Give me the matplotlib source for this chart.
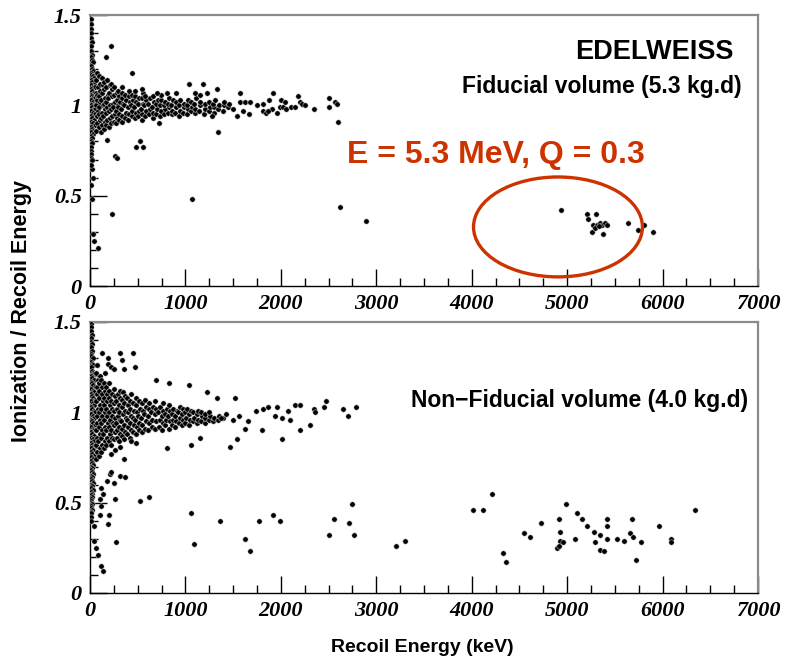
import matplotlib
matplotlib.use("Agg")
import matplotlib.pyplot as plt
from matplotlib.patches import Ellipse
from matplotlib.ticker import MultipleLocator, FuncFormatter

# ---- data: (recoil energy keV, ionization/recoil) ----
fid_core = [
    (8, 1.48), (12, 1.45), (6, 1.42), (15, 1.40), (10, 1.37), (20, 1.35), (8, 1.33), (14, 1.30),
    (25, 1.28), (6, 1.27), (18, 1.25), (30, 1.24), (10, 1.22), (22, 1.20), (35, 1.19), (5, 1.18),
    (15, 1.17), (28, 1.16), (40, 1.15), (10, 1.14), (20, 1.13), (45, 1.12), (8, 1.11), (32, 1.10),
    (55, 1.10), (15, 1.09), (25, 1.08), (40, 1.07), (60, 1.07), (5, 1.06), (18, 1.05), (35, 1.04),
    (50, 1.04), (12, 1.03), (28, 1.02), (45, 1.01), (65, 1.01), (8, 1.00), (20, 0.99), (38, 0.98),
    (55, 0.98), (15, 0.97), (30, 0.96), (48, 0.95), (6, 0.94), (22, 0.93), (40, 0.92), (12, 0.91),
    (30, 0.90), (50, 0.89), (8, 0.88), (20, 0.87), (35, 0.86), (12, 0.85), (28, 0.84), (6, 0.83),
    (18, 0.82), (10, 0.80), (25, 0.79), (8, 0.77), (15, 0.75), (6, 0.73), (12, 0.71), (20, 0.70),
    (62, 0.86), (75, 0.90), (68, 0.94), (80, 0.97), (65, 1.00), (78, 1.03), (70, 1.06), (84, 1.10), (66, 1.14), (76, 1.18),
    (95, 0.88), (102, 0.92), (90, 0.95), (98, 0.99), (105, 1.02), (92, 1.05), (100, 1.08), (108, 1.12), (94, 1.16),
    (120, 0.85), (128, 0.89), (115, 0.93), (124, 0.96), (132, 1.00), (118, 1.03), (126, 1.07), (135, 1.11), (122, 1.15),
    (145, 0.87), (152, 0.91), (140, 0.94), (158, 0.98), (148, 1.01), (155, 1.04), (142, 1.09), (150, 1.13),
    (170, 0.89), (178, 0.92), (165, 0.96), (182, 0.99), (172, 1.02), (186, 1.06), (168, 1.10), (180, 1.14),
    (195, 0.88), (205, 0.93), (198, 0.97), (210, 1.00), (192, 1.04), (202, 1.07), (212, 1.11),
    (225, 0.90), (232, 0.94), (220, 0.98), (238, 1.01), (228, 1.05), (235, 1.09), (222, 1.12),
    (250, 0.91), (258, 0.95), (246, 0.99), (262, 1.02), (254, 1.06), (248, 1.10),
    (275, 0.90), (282, 0.93), (270, 0.97), (288, 1.00), (278, 1.03), (285, 1.07),
    (300, 0.92), (308, 0.95), (296, 0.99), (312, 1.02), (304, 1.05), (298, 1.08),
    (330, 0.91), (340, 0.94), (326, 0.98), (344, 1.01), (334, 1.04), (338, 1.07),
    (365, 0.93), (372, 0.96), (360, 1.00), (378, 1.03), (368, 1.06),
    (400, 0.92), (410, 0.95), (396, 0.99), (414, 1.02), (404, 1.05), (408, 1.08),
    (436, 0.94), (444, 0.97), (432, 1.00), (448, 1.03), (440, 1.06),
    (470, 0.93), (478, 0.96), (466, 0.99), (482, 1.02), (474, 1.05),
    (505, 0.94), (514, 0.97), (500, 1.01), (518, 1.04),
    (540, 0.92), (548, 0.95), (536, 0.98), (552, 1.01), (544, 1.04), (550, 1.07),
    (575, 0.94), (584, 0.97), (570, 1.00), (588, 1.03), (580, 1.05),
    (615, 0.95), (624, 0.98), (612, 1.01), (628, 1.04),
    (655, 0.93), (664, 0.96), (650, 0.99), (668, 1.02), (660, 1.05),
    (695, 0.95), (704, 0.98), (690, 1.01), (708, 1.03),
    (735, 0.94), (745, 0.97), (732, 1.00), (748, 1.03), (740, 1.06),
    (775, 0.95), (784, 0.98), (770, 1.00), (788, 1.02),
    (815, 0.96), (824, 0.99), (812, 1.01), (828, 1.04),
    (855, 0.95), (864, 0.97), (852, 1.00), (868, 1.03),
    (895, 0.96), (904, 0.99), (900, 1.02),
    (935, 0.94), (944, 0.97), (932, 1.00), (948, 1.03),
    (975, 0.96), (984, 0.99), (980, 1.01),
    (1015, 0.95), (1024, 0.98), (1012, 1.00), (1028, 1.03),
    (1055, 0.97), (1064, 0.99), (1060, 1.02),
    (1095, 0.96), (1104, 0.98), (1092, 1.01), (1108, 1.04),
    (1145, 0.97), (1154, 1.00), (1150, 1.02),
    (1195, 0.95), (1204, 0.98), (1200, 1.01),
    (1245, 0.97), (1254, 0.99), (1250, 1.02),
    (1295, 0.96), (1304, 0.99), (1292, 1.01), (1308, 1.03),
    (1345, 0.98), (1355, 1.00), (1395, 0.97), (1404, 1.00), (1400, 1.02),
    (1450, 0.99), (1455, 1.01), (1500, 0.98),
]

fid_sparse = [
    (168, 1.27), (220, 1.33), (440, 1.18), (335, 1.10), (470, 1.08), (545, 1.09), (700, 1.07),
    (805, 1.07), (900, 1.07), (1040, 1.12), (1185, 1.12), (1230, 1.07), (1330, 1.09), (1100, 1.07),
    (1150, 1.06), (1570, 1.07), (1915, 1.07), (1570, 1.02), (1625, 1.02), (1675, 1.02),
    (1750, 1.00), (1810, 1.01), (1875, 1.03), (1905, 0.98), (1810, 0.97), (1840, 0.96),
    (1870, 0.97), (1960, 0.96), (1990, 0.99), (2020, 0.99), (2050, 0.98), (2000, 1.03),
    (2040, 1.02), (2110, 0.99), (2150, 0.99), (2180, 1.05), (2200, 1.02), (2225, 1.01),
    (2250, 1.00), (2350, 0.98), (2505, 1.04), (2505, 0.99), (2570, 1.02), (2590, 1.01),
    (2600, 0.91), (1340, 0.85), (1665, 0.95), (1540, 0.94), (1600, 0.97), (1280, 0.94),
    (723, 0.90), (2620, 0.44), (2890, 0.36), (1070, 0.48), (230, 0.40), (262, 0.72),
    (283, 0.71), (480, 0.77), (524, 0.80), (555, 0.77), (178, 0.81), (35, 0.29), (45, 0.25),
    (80, 0.21), (15, 0.56), (30, 0.60), (20, 0.65), (25, 0.48), (12, 0.67),
    # events inside the circled region
    (4935, 0.42), (5210, 0.40), (5220, 0.37), (5300, 0.40), (5270, 0.34), (5310, 0.34),
    (5340, 0.35), (5370, 0.34), (5400, 0.35), (5420, 0.34), (5260, 0.30), (5290, 0.32),
    (5330, 0.33), (5380, 0.29), (5640, 0.35), (5745, 0.31), (5805, 0.34), (5900, 0.30),
]

nonfid_core = [
    (6, 1.49), (12, 1.47), (8, 1.45), (18, 1.43), (5, 1.41), (14, 1.39), (24, 1.38), (9, 1.36),
    (20, 1.34), (6, 1.32), (15, 1.31), (28, 1.30), (10, 1.28), (22, 1.27), (35, 1.26), (5, 1.25),
    (16, 1.23), (30, 1.22), (42, 1.21), (10, 1.20), (24, 1.19), (38, 1.18), (6, 1.17), (18, 1.16),
    (32, 1.15), (48, 1.14), (12, 1.13), (26, 1.12), (40, 1.11), (5, 1.10), (20, 1.09), (34, 1.08),
    (50, 1.07), (14, 1.06), (28, 1.05), (44, 1.04), (8, 1.03), (22, 1.02), (38, 1.01), (54, 1.00),
    (12, 0.99), (30, 0.98), (46, 0.97), (6, 0.96), (20, 0.95), (36, 0.94), (52, 0.93), (14, 0.92),
    (28, 0.91), (44, 0.90), (8, 0.89), (22, 0.88), (38, 0.87), (12, 0.86), (30, 0.85), (46, 0.84),
    (6, 0.83), (20, 0.82), (36, 0.81), (14, 0.80), (28, 0.79), (8, 0.78), (22, 0.77), (40, 0.76),
    (12, 0.75), (30, 0.74), (6, 0.73), (18, 0.72), (34, 0.71), (10, 0.70), (24, 0.69), (6, 0.68),
    (16, 0.67), (30, 0.66), (10, 0.65), (22, 0.64), (6, 0.63), (16, 0.62), (28, 0.61), (8, 0.60),
    (20, 0.59), (12, 0.58), (26, 0.57), (6, 0.56), (18, 0.55), (10, 0.54), (24, 0.53), (6, 0.52),
    (14, 0.51), (8, 0.50), (20, 0.49), (10, 0.48), (6, 0.47), (16, 0.46), (8, 0.45), (12, 0.44),
    (6, 0.42), (10, 0.40),
    (62, 0.74), (72, 0.78), (66, 0.82), (78, 0.86), (64, 0.90), (74, 0.94), (68, 0.98), (80, 1.02),
    (63, 1.06), (76, 1.10), (70, 1.14), (82, 1.18), (66, 1.22), (74, 1.26),
    (92, 0.76), (100, 0.80), (88, 0.84), (104, 0.88), (94, 0.92), (102, 0.96), (90, 1.00),
    (106, 1.04), (96, 1.08), (98, 1.12), (92, 1.16), (104, 1.20),
    (118, 0.78), (126, 0.82), (114, 0.86), (130, 0.90), (120, 0.94), (128, 0.98), (116, 1.02),
    (132, 1.06), (122, 1.10), (126, 1.14), (118, 1.18),
    (145, 0.80), (152, 0.84), (140, 0.88), (158, 0.92), (148, 0.96), (155, 1.00), (142, 1.04),
    (150, 1.08), (156, 1.12), (146, 1.16), (152, 1.22),
    (172, 0.82), (180, 0.86), (166, 0.90), (184, 0.94), (174, 0.98), (168, 1.02), (182, 1.06),
    (176, 1.10), (170, 1.14),
    (198, 0.84), (206, 0.88), (194, 0.92), (210, 0.96), (200, 1.00), (208, 1.04), (196, 1.08),
    (204, 1.12), (200, 1.16),
    (225, 0.82), (232, 0.86), (220, 0.90), (238, 0.94), (228, 0.98), (234, 1.02), (222, 1.06), (230, 1.10),
    (252, 0.85), (260, 0.89), (248, 0.93), (264, 0.97), (256, 1.01), (250, 1.05), (262, 1.09), (254, 1.13),
    (278, 0.86), (286, 0.90), (274, 0.94), (290, 0.98), (282, 1.02), (276, 1.06), (288, 1.10),
    (305, 0.84), (312, 0.88), (300, 0.92), (316, 0.96), (308, 1.00), (304, 1.04), (314, 1.08), (310, 1.12),
    (332, 0.87), (340, 0.91), (328, 0.95), (344, 0.99), (336, 1.03), (330, 1.07), (342, 1.11),
    (360, 0.85), (368, 0.89), (356, 0.93), (372, 0.97), (364, 1.01), (358, 1.05), (370, 1.09),
    (390, 0.88), (398, 0.92), (386, 0.96), (402, 1.00), (394, 1.04), (388, 1.08),
    (420, 0.86), (428, 0.90), (416, 0.94), (432, 0.98), (424, 1.02), (418, 1.06), (430, 1.10),
    (450, 0.89), (458, 0.93), (446, 0.97), (462, 1.01), (454, 1.05),
    (480, 0.88), (488, 0.92), (476, 0.96), (492, 1.00), (484, 1.04), (478, 1.08),
    (510, 0.90), (518, 0.94), (506, 0.98), (522, 1.02), (514, 1.06),
    (540, 0.89), (548, 0.93), (536, 0.97), (552, 1.01), (544, 1.05),
    (575, 0.91), (584, 0.95), (570, 0.99), (588, 1.03), (580, 1.07),
    (610, 0.90), (618, 0.94), (606, 0.98), (622, 1.02), (614, 1.05),
    (645, 0.92), (654, 0.96), (640, 1.00), (658, 1.03),
    (680, 0.91), (690, 0.95), (676, 0.99), (694, 1.02), (686, 1.06),
    (720, 0.92), (730, 0.96), (716, 1.00), (734, 1.03),
    (755, 0.90), (764, 0.94), (750, 0.98), (768, 1.01), (760, 1.05),
    (790, 0.93), (800, 0.96), (786, 0.99), (804, 1.02),
    (825, 0.91), (834, 0.95), (820, 0.98), (838, 1.01), (830, 1.04),
    (860, 0.93), (870, 0.96), (856, 0.99), (874, 1.02),
    (895, 0.92), (904, 0.95), (890, 0.98), (908, 1.01),
    (930, 0.94), (940, 0.97), (926, 1.00), (944, 1.03),
    (965, 0.93), (974, 0.96), (960, 0.99), (978, 1.02),
    (1000, 0.94), (1010, 0.97), (996, 1.00), (1014, 1.02),
    (1040, 0.93), (1050, 0.96), (1036, 0.99), (1054, 1.01),
    (1080, 0.95), (1090, 0.97), (1076, 1.00),
    (1120, 0.94), (1130, 0.96), (1116, 0.99), (1134, 1.01),
    (1160, 0.95), (1170, 0.98), (1165, 1.00),
    (1200, 0.94), (1210, 0.97), (1205, 0.99),
    (1245, 0.96), (1255, 0.98), (1250, 1.00),
    (1290, 0.95), (1300, 0.97), (1340, 0.96), (1350, 0.98), (1390, 0.97),
]

nonfid_sparse = [
    (125, 1.33), (190, 1.30), (190, 1.27), (220, 1.25), (250, 1.24), (315, 1.33), (340, 1.29),
    (360, 1.24), (455, 1.33), (470, 1.25), (690, 1.18), (830, 1.16), (1040, 1.15), (1225, 1.11),
    (1330, 1.08), (1520, 1.08), (1740, 1.01), (1810, 1.02), (1865, 1.03), (1960, 1.03),
    (2075, 1.01), (2150, 1.04), (2200, 1.04), (2350, 1.02), (2360, 1.00), (2450, 1.03),
    (2470, 1.06), (2650, 1.02), (2705, 0.98), (2785, 1.03), (1940, 0.98), (2010, 0.97),
    (2100, 0.96), (2305, 0.93), (2200, 0.90), (2010, 0.85), (1800, 0.90), (1625, 0.91),
    (1540, 0.85), (1465, 0.81), (1150, 0.86), (1060, 0.82), (810, 0.80), (1370, 0.97),
    (1430, 0.99), (1500, 0.96), (1560, 0.98), (1660, 0.95),
    (220, 0.77), (265, 0.79), (315, 0.81), (430, 0.84), (480, 0.83), (210, 0.66), (175, 0.62),
    (120, 0.58), (140, 0.55), (100, 0.52), (120, 0.48), (100, 0.43),
    (526, 0.51), (618, 0.53), (265, 0.52), (250, 0.61), (315, 0.65), (367, 0.64), (220, 0.67),
    (357, 0.74), (272, 0.28), (190, 0.38), (200, 0.43), (45, 0.37), (45, 0.29), (60, 0.25),
    (80, 0.21), (115, 0.15), (136, 0.12), (1060, 0.44), (1090, 0.27), (1365, 0.40),
    (1625, 0.30), (1675, 0.23), (1775, 0.40), (1915, 0.43), (1990, 0.40), (2505, 0.32),
    (2555, 0.41), (2715, 0.39), (2745, 0.49), (2765, 0.32), (3205, 0.26), (3300, 0.29),
    (4015, 0.46), (4120, 0.46), (4215, 0.55), (4330, 0.22), (4360, 0.17), (4550, 0.33),
    (4610, 0.31), (4730, 0.39), (4895, 0.25), (4915, 0.41), (4930, 0.34), (4930, 0.29),
    (4955, 0.28), (4915, 0.26), (4990, 0.49), (5080, 0.30), (5105, 0.44), (5155, 0.41),
    (5210, 0.37), (5280, 0.34), (5290, 0.28), (5345, 0.32), (5345, 0.24), (5385, 0.23),
    (5415, 0.41), (5415, 0.37), (5415, 0.30), (5525, 0.30), (5595, 0.29), (5660, 0.33),
    (5690, 0.31), (5680, 0.41), (5720, 0.18), (5775, 0.28), (5965, 0.37), (6090, 0.30),
    (6090, 0.28), (6340, 0.46),
]

x_ticks = [0, 1000, 2000, 3000, 4000, 5000, 6000, 7000]
y_ticks = [0, 0.5, 1, 1.5]
alpha_E, alpha_Q = 5300, 0.3

RED = "#cc3300"
tick_font = dict(family="Liberation Serif", weight="bold", style="italic", size=16)
label_font = dict(family="Liberation Sans", weight="bold")

fig = plt.figure(figsize=(7.89, 6.61), dpi=100)
ax_top = fig.add_axes([0.1141, 0.5673, 0.8466, 0.41])
ax_bot = fig.add_axes([0.1141, 0.1029, 0.8466, 0.41])


def style_axes(ax):
    ax.set_xlim(0, 7000)
    ax.set_ylim(0, 1.5)
    ax.set_xticks(x_ticks)
    ax.set_yticks(y_ticks)
    ax.xaxis.set_minor_locator(MultipleLocator(250))
    ax.yaxis.set_minor_locator(MultipleLocator(0.1))
    ax.yaxis.set_major_formatter(FuncFormatter(lambda v, p: f"{v:g}"))
    ax.tick_params(which="both", direction="in", top=False, right=False, width=1, color="black")
    ax.tick_params(which="major", length=12, pad=6)
    ax.tick_params(which="minor", length=6)
    for lab in ax.get_xticklabels() + ax.get_yticklabels():
        lab.set(**tick_font)
    for s in ("top", "right"):
        ax.spines[s].set_color("#8a8a8a")
        ax.spines[s].set_linewidth(1.6)
    for s in ("left", "bottom"):
        ax.spines[s].set_color("black")
        ax.spines[s].set_linewidth(1.0)


def draw_points(ax, pts):
    e, q = zip(*pts)
    ax.scatter(e, q, s=15, c="black", edgecolors="#e0e0e0", linewidths=0.35, zorder=3)


draw_points(ax_top, fid_core)
draw_points(ax_top, fid_sparse)
draw_points(ax_bot, nonfid_core)
draw_points(ax_bot, nonfid_sparse)

for ax in (ax_top, ax_bot):
    style_axes(ax)

ax_top.text(0.9626, 0.865, "EDELWEISS", transform=ax_top.transAxes, ha="right", va="center",
            fontsize=19.5, **label_font)
ax_top.text(0.976, 0.735, "Fiducial volume (5.3 kg.d)", transform=ax_top.transAxes,
            ha="right", va="center", fontsize=16.5, **label_font)
ax_top.text(0.385, 0.485, f"E = {alpha_E / 1000:g} MeV, Q = {alpha_Q:g}", transform=ax_top.transAxes,
            ha="left", va="center", fontsize=23, color=RED, **label_font)
ax_top.add_patch(Ellipse((4904, 0.327), 1770, 0.553, fill=False, edgecolor=RED, lw=2.4, zorder=4))

ax_bot.text(0.985, 0.71, "Non\u2212Fiducial volume (4.0 kg.d)", transform=ax_bot.transAxes,
            ha="right", va="center", fontsize=16.5, **label_font)

fig.text(0.027, 0.53, "Ionization / Recoil Energy", rotation=90, ha="center", va="center",
         fontsize=15.5, **label_font)
fig.text(0.535, 0.02, "Recoil Energy (keV)", ha="center", va="center", fontsize=14, **label_font)

fig.savefig("out.png", dpi=100)
